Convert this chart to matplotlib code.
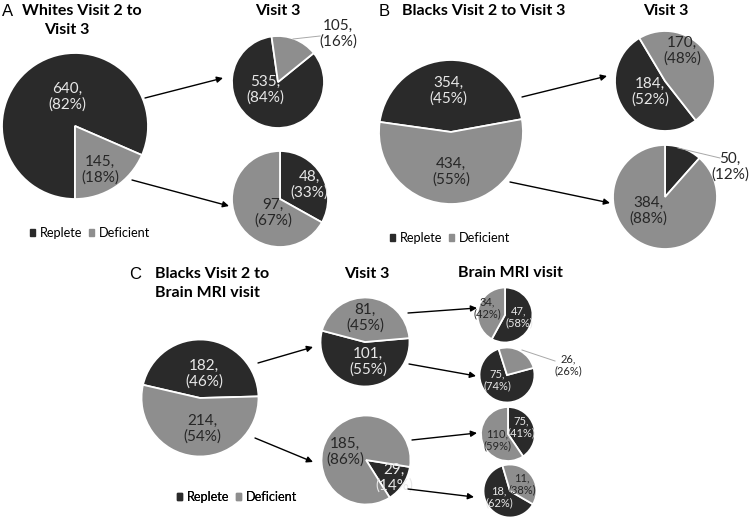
import matplotlib

matplotlib.use("Agg")
import matplotlib.pyplot as plt
from matplotlib.patches import Patch

plt.rcParams["font.family"] = ["Lato", "DejaVu Sans"]

W, H = 750, 523
DARK = "#2a2a2a"
GRAY = "#8e8e8e"
TXT_LIGHT = "#e8e8e8"
TXT_DARK = "#262626"

SERIES = ["Replete", "Deficient"]

# counts as [replete, deficient]
a_visit2 = [640, 145]
a_visit3_from_replete = [535, 105]
a_visit3_from_deficient = [48, 97]

b_visit2 = [354, 434]
b_visit3_from_replete = [184, 170]
b_visit3_from_deficient = [50, 384]

c_visit2 = [182, 214]
c_visit3_from_replete = [101, 81]
c_visit3_from_deficient = [29, 185]
# brain MRI visit, split by visit 2 / visit 3 status
c_mri_rep_def = [47, 34]
c_mri_rep_rep = [75, 26]
c_mri_def_def = [75, 110]
c_mri_def_rep = [18, 11]


def Y(y):
    return H - y


def draw_pie(ax, values, cx, cy, r, start, label_xy, size=11, outside=None,
             leader=None, spacing=1.15):
    ax.pie(values, colors=[DARK, GRAY], startangle=start, counterclock=False,
           radius=r, center=(cx, Y(cy)), frame=True,
           wedgeprops=dict(edgecolor="white", linewidth=1.3))
    total = sum(values)
    for i, (v, (lx, ly)) in enumerate(zip(values, label_xy)):
        pct = round(100 * v / total)
        color = TXT_LIGHT if (i == 0 and i != outside) else TXT_DARK
        ax.text(lx, Y(ly), f"{v},\n({pct}%)", ha="center", va="center",
                fontsize=size, color=color, linespacing=spacing)
    if leader is not None:
        (x1, y1), (x2, y2) = leader
        ax.plot([x1, x2], [Y(y1), Y(y2)], color="#a8a8a8", lw=0.7)


def arrow(ax, start, end):
    ax.annotate("", xy=(end[0], Y(end[1])), xytext=(start[0], Y(start[1])),
                arrowprops=dict(arrowstyle="-|>", color="black", lw=1.0,
                                mutation_scale=9, shrinkA=0, shrinkB=0))


def legend(ax, x, y, size=9.2):
    handles = [Patch(color=DARK), Patch(color=GRAY)]
    leg = ax.legend(handles, SERIES, loc="center left", ncol=2,
                    bbox_to_anchor=(x, Y(y)), bbox_transform=ax.transData,
                    frameon=False, fontsize=size, handlelength=0.38,
                    handleheight=0.38, handletextpad=0.4, columnspacing=0.5,
                    borderpad=0, borderaxespad=0)
    ax.add_artist(leg)


fig = plt.figure(figsize=(7.5, 5.23), dpi=100)
ax = fig.add_axes([0, 0, 1, 1])

# panel A
draw_pie(ax, a_visit2, 75, 126, 73, -90, [(67, 97), (100, 170)])
draw_pie(ax, a_visit3_from_replete, 278, 82, 46, 39, [(265, 90), (338, 34)],
         outside=1, leader=[(293, 39), (320, 36)])
draw_pie(ax, a_visit3_from_deficient, 280, 199, 48, 90, [(309, 185), (273, 213)])
arrow(ax, (145, 98), (223, 78))
arrow(ax, (132, 180), (229, 206))
legend(ax, 30, 233)

# panel B
draw_pie(ax, b_visit2, 451, 132, 72, 172, [(448, 91), (451, 172)])
draw_pie(ax, b_visit3_from_replete, 665, 81, 50, -52, [(650, 92), (682, 51)])
draw_pie(ax, b_visit3_from_deficient, 665, 197, 52, 90, [(730, 167), (648, 211)],
         outside=0, leader=[(678, 148), (720, 158)])
arrow(ax, (522, 97), (607, 76))
arrow(ax, (510, 182), (610, 203))
legend(ax, 390, 238)

# panel C
draw_pie(ax, c_visit2, 200, 398, 58.5, 167, [(204, 374), (202, 429)])
draw_pie(ax, c_visit3_from_replete, 365, 342, 44.5, 5, [(368, 362), (365, 318)])
draw_pie(ax, c_visit3_from_deficient, 366, 460, 44.5, -9, [(394, 478), (345, 452)])
draw_pie(ax, c_mri_rep_def, 505, 315, 27.5, 90, [(519, 317), (487, 308)],
         size=8, spacing=1.1)
draw_pie(ax, c_mri_rep_rep, 507, 375, 27.5, 15, [(497, 380), (568, 365)],
         size=8, spacing=1.1, outside=1, leader=[(522, 350), (555, 361)])
draw_pie(ax, c_mri_def_def, 508, 434, 27, 90, [(521, 427), (497, 440)],
         size=8, spacing=1.1)
draw_pie(ax, c_mri_def_rep, 510, 491, 26.5, -30, [(499, 497), (522, 484)],
         size=8, spacing=1.1)
arrow(ax, (258, 363), (313, 347))
arrow(ax, (255, 438), (313, 462))
arrow(ax, (408, 313), (477, 308))
arrow(ax, (409, 364), (476, 376))
arrow(ax, (412, 440), (477, 433))
arrow(ax, (408, 489), (474, 497))
legend(ax, 177, 497)

# titles
bold = dict(fontsize=11.5, fontweight="bold", color="black", va="baseline")
ax.text(2, Y(16), "A", fontsize=12, family="Liberation Sans", va="baseline")
ax.text(22, Y(15), "Whites Visit 2 to", ha="left", **bold)
ax.text(67, Y(34), "Visit 3", ha="center", **bold)
ax.text(278, Y(15), "Visit 3", ha="center", **bold)
ax.text(379, Y(16), "B", fontsize=12, family="Liberation Sans", va="baseline")
ax.text(402, Y(15), "Blacks Visit 2 to Visit 3", ha="left", **bold)
ax.text(666, Y(15), "Visit 3", ha="center", **bold)
ax.text(129, Y(279), "C", fontsize=12, family="Liberation Sans", va="baseline")
ax.text(155, Y(278), "Blacks Visit 2 to", ha="left", **bold)
ax.text(155, Y(297), "Brain MRI visit", ha="left", **bold)
ax.text(367, Y(278), "Visit 3", ha="center", **bold)
ax.text(510, Y(277), "Brain MRI visit", ha="center", **bold)

ax.set_xlim(0, W)
ax.set_ylim(0, H)
ax.set_aspect("equal")
ax.axis("off")

fig.savefig("out.png", dpi=100)
